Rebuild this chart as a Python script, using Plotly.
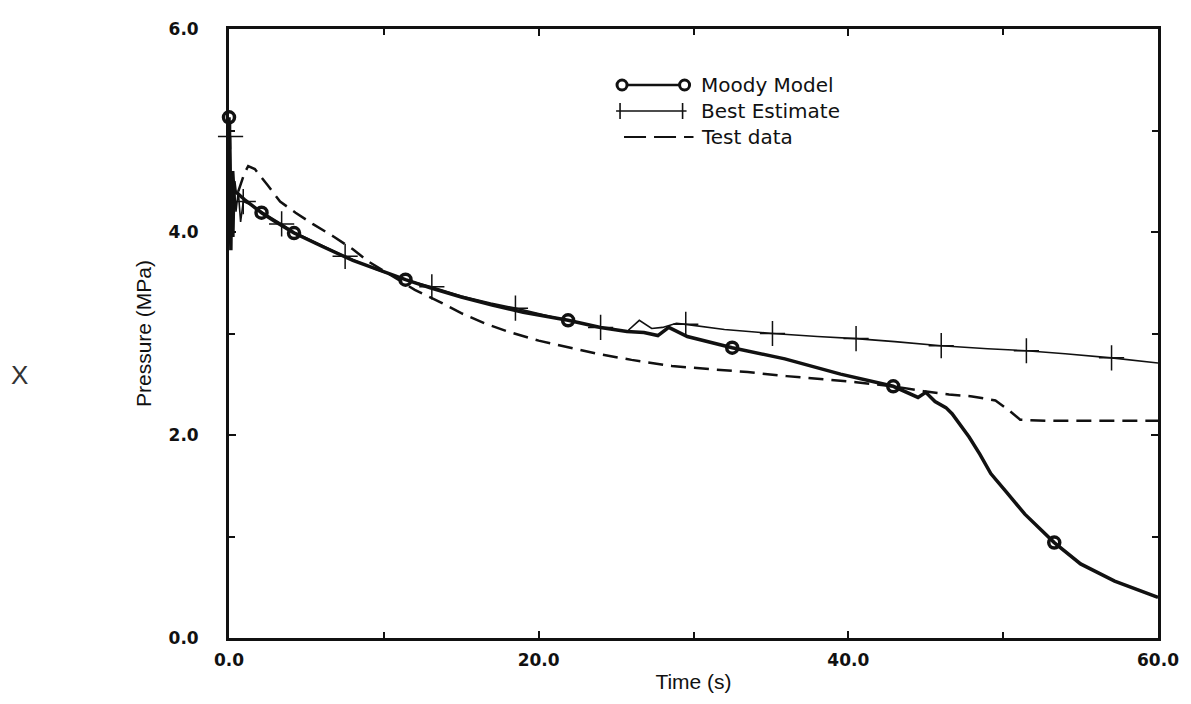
import plotly.graph_objects as go

# ---------------- data ----------------
moody_time = [0.0, 0.05, 0.12, 0.18, 0.25, 0.32, 0.4, 1.0, 2.1, 3.0, 4.2, 6.0, 8.0, 11.4,
              13.0, 15.0, 17.0, 19.0, 21.9, 24.0, 25.7, 26.8, 27.7, 28.4, 29.6, 32.5,
              35.9, 39.5, 42.9, 44.5, 45.0, 45.6, 46.3, 46.7, 47.2, 47.8, 48.5, 49.2,
              50.2, 51.4, 53.3, 55.0, 57.2, 60.0]
moody_pressure = [5.13, 4.2, 3.82, 4.6, 3.95, 4.5, 4.4, 4.32, 4.19, 4.1, 3.99, 3.86, 3.72, 3.53,
                  3.45, 3.36, 3.28, 3.21, 3.13, 3.06, 3.02, 3.01, 2.98, 3.06, 2.97, 2.86,
                  2.75, 2.60, 2.48, 2.37, 2.42, 2.33, 2.27, 2.21, 2.11, 1.98, 1.81, 1.62,
                  1.44, 1.22, 0.94, 0.73, 0.56, 0.40]
moody_marker_time = [0.0, 2.1, 4.2, 11.4, 21.9, 32.5, 42.9, 53.3]
moody_marker_pressure = [5.13, 4.19, 3.99, 3.53, 3.13, 2.86, 2.48, 0.94]

best_time = [0.0, 0.1, 0.2, 0.3, 0.45, 0.6, 0.75, 0.92, 1.5, 2.1, 3.4, 4.2, 6.0, 7.5, 9.5,
             11.4, 13.1, 15.0, 16.9, 18.5, 21.0, 24.0, 25.7, 26.5, 27.3, 28.0, 28.9, 29.5,
             32.0, 35.1, 38.0, 40.5, 43.0, 46.0, 49.0, 51.5, 54.0, 57.0, 60.0]
best_pressure = [5.0, 4.94, 4.0, 4.6, 4.2, 4.4, 4.1, 4.3, 4.26, 4.2, 4.08, 4.0, 3.87, 3.76, 3.63,
                 3.53, 3.46, 3.37, 3.30, 3.25, 3.16, 3.06, 3.02, 3.13, 3.05, 3.06, 3.10, 3.09,
                 3.04, 3.0, 2.97, 2.95, 2.92, 2.88, 2.85, 2.83, 2.80, 2.76, 2.71]
best_marker_time = [0.1, 0.92, 3.4, 7.5, 13.1, 18.5, 24.0, 29.5, 35.1, 40.5, 46.0, 51.5, 57.0]
best_marker_pressure = [4.94, 4.3, 4.08, 3.76, 3.46, 3.25, 3.06, 3.09, 3.0, 2.95, 2.88, 2.83, 2.76]

test_time = [0.6, 0.8, 1.0, 1.24, 1.67, 2.5, 3.3, 4.3, 5.4, 6.7, 8.0, 9.0, 10.5, 12.0, 13.5,
             15.0, 16.5, 18.0, 20.0, 22.0, 23.8, 26.0, 28.6, 31.0, 33.5, 36.0, 38.3, 40.5,
             42.9, 44.9, 46.5, 48.0, 49.5, 50.4, 51.1, 53.0, 56.0, 60.0]
test_pressure = [4.4, 4.49, 4.58, 4.65, 4.62, 4.46, 4.30, 4.19, 4.08, 3.96, 3.83, 3.71, 3.57,
                 3.43, 3.32, 3.2, 3.1, 3.02, 2.93, 2.86, 2.80, 2.74, 2.68, 2.65, 2.62, 2.58,
                 2.55, 2.52, 2.48, 2.43, 2.40, 2.38, 2.34, 2.24, 2.15, 2.14, 2.14, 2.14]

series_names = ["Moody Model", "Best Estimate", "Test data"]
x_title = "Time (s)"
y_title = "Pressure (MPa)"
side_mark = "X"

# ---------------- styles / layout geometry ----------------
INK = "#111111"
FONT = "Liberation Sans, Arial, sans-serif"
KEYFONT = "DejaVu Sans, Liberation Sans, sans-serif"
TICKFONT = "DejaVu Sans, Liberation Sans, sans-serif"
W, H = 1191, 704
ML, MR, MT, MB = 229, 26, 29, 66
PW, PH = W - ML - MR, H - MT - MB


def px(x):
    return (x - ML) / PW


def py(y):
    return (H - MB - y) / PH


moody_marker = dict(symbol="circle-open", size=11, color=INK, line=dict(width=3.5, color=INK))
best_marker = dict(symbol="cross-thin", size=18, color=INK, line=dict(width=1.5, color=INK))
test_dash = "15px,8px"

fig = go.Figure()

fig.add_trace(go.Scatter(x=moody_time, y=moody_pressure, mode="lines", name=series_names[0],
                         line=dict(color=INK, width=3.5), showlegend=False))
fig.add_trace(go.Scatter(x=best_time, y=best_pressure, mode="lines", name=series_names[1],
                         line=dict(color=INK, width=1.6), showlegend=False))
fig.add_trace(go.Scatter(x=test_time, y=test_pressure, mode="lines", name=series_names[2],
                         line=dict(color=INK, width=2.5, dash=test_dash), showlegend=False))
fig.add_trace(go.Scatter(x=moody_marker_time, y=moody_marker_pressure, mode="markers",
                         name=series_names[0], marker=moody_marker, showlegend=False,
                         cliponaxis=False))
fig.add_trace(go.Scatter(x=best_marker_time, y=best_marker_pressure, mode="markers",
                         name=series_names[1], marker=best_marker, showlegend=False,
                         cliponaxis=False))

# ---------------- key (drawn like the original: sample with symbols at both ends) ----------------
shapes = []
annotations = []
rows = [85, 111, 137]
x_a, x_b, x_text = 625, 688, 703

# Moody: thick line, circles at both ends
shapes.append(dict(type="line", xref="paper", yref="paper", x0=px(x_a), x1=px(x_b),
                   y0=py(rows[0]), y1=py(rows[0]), line=dict(color=INK, width=2.5)))
for xx in (x_a, x_b):
    shapes.append(dict(type="circle", xref="paper", yref="paper", xsizemode="pixel",
                       ysizemode="pixel", xanchor=px(xx), yanchor=py(rows[0]),
                       x0=-5, x1=5, y0=-5, y1=5, fillcolor="white",
                       line=dict(color=INK, width=3)))
# Best Estimate: thin line, crosses at both ends
shapes.append(dict(type="line", xref="paper", yref="paper", x0=px(x_a - 6), x1=px(x_b + 2),
                   y0=py(rows[1]), y1=py(rows[1]), line=dict(color=INK, width=1.6)))
for xx in (x_a - 2, x_b - 2):
    shapes.append(dict(type="line", xref="paper", yref="paper", ysizemode="pixel",
                       yanchor=py(rows[1]), x0=px(xx), x1=px(xx), y0=-8, y1=8,
                       line=dict(color=INK, width=1.6)))
# Test data: dashed
shapes.append(dict(type="line", xref="paper", yref="paper", x0=px(x_a + 2), x1=px(x_b + 9),
                   y0=py(rows[2]), y1=py(rows[2]),
                   line=dict(color=INK, width=2.2, dash="22px,8px")))

for name, r in zip(series_names, rows):
    annotations.append(dict(text=name, xref="paper", yref="paper", x=px(x_text), y=py(r),
                            xanchor="left", yanchor="middle", showarrow=False,
                            font=dict(family=KEYFONT, size=20, color=INK)))

annotations.append(dict(text=side_mark, xref="paper", yref="paper", x=px(18), y=py(375),
                        showarrow=False, font=dict(family=FONT, size=26, color="#333333"),
                        xanchor="center", yanchor="middle"))

axis_common = dict(
    showgrid=False, zeroline=False, showline=True, linecolor=INK, linewidth=2.8,
    mirror="allticks", ticks="inside", ticklen=7, tickwidth=2, tickcolor=INK,
    tickformat=".1f", tickfont=dict(family=TICKFONT, size=17, color=INK, weight="bold"),
)

fig.update_layout(
    width=W, height=H,
    margin=dict(l=ML, r=MR, t=MT, b=MB, pad=0),
    paper_bgcolor="white", plot_bgcolor="white",
    font=dict(family=FONT, color=INK),
    showlegend=False,
    xaxis=dict(range=[0, 60], tick0=0, dtick=20,
               minor=dict(dtick=10, ticks="inside", ticklen=6, tickwidth=2, tickcolor=INK),
               ticklabelstandoff=5,
               title=dict(text=x_title, font=dict(family=FONT, size=21, color=INK), standoff=6),
               **axis_common),
    yaxis=dict(range=[0, 6], tick0=0, dtick=2,
               minor=dict(dtick=1, ticks="inside", ticklen=6, tickwidth=2, tickcolor=INK),
               ticklabelstandoff=24,
               title=dict(text=y_title, font=dict(family=FONT, size=21, color=INK), standoff=12),
               **axis_common),
    shapes=shapes,
    annotations=annotations,
)

fig.write_html("out.html")
